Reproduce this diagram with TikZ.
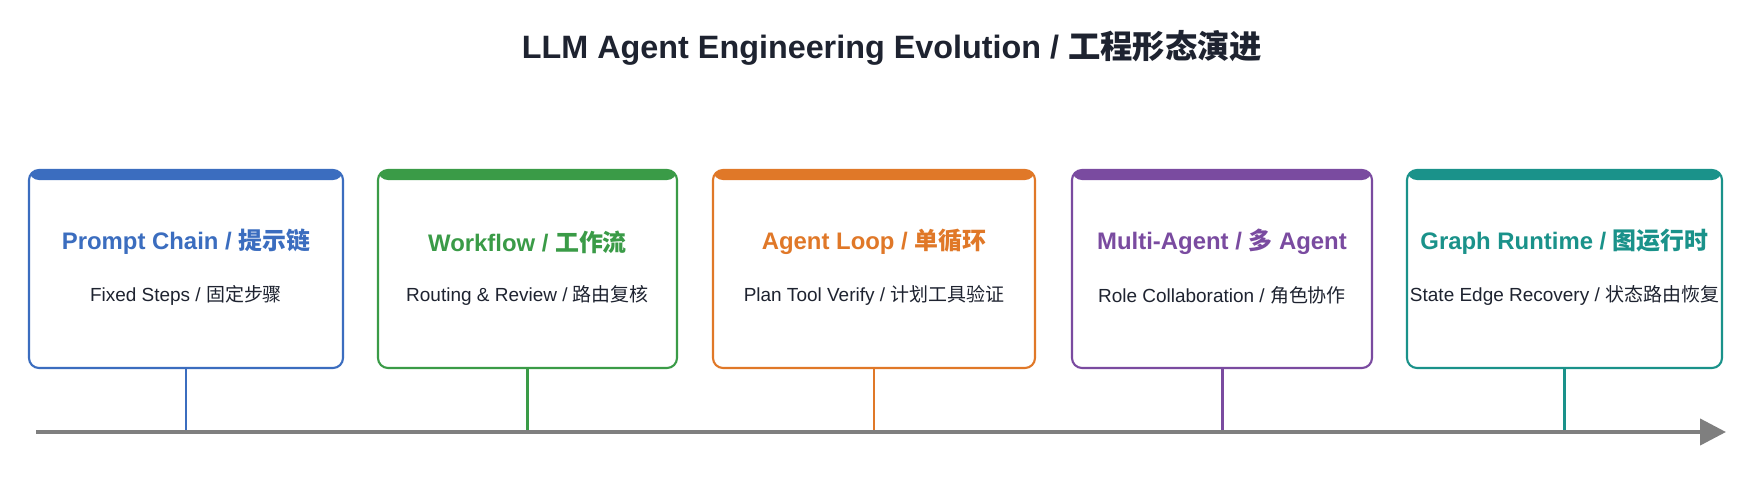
\documentclass[tikz,border=0pt]{standalone}
\usepackage{fontspec}
\setmainfont{Liberation Sans}
\newfontfamily\cjk{Noto Sans CJK SC}
\usetikzlibrary{arrows.meta}

\definecolor{chainblue}{HTML}{3B6DBF}
\definecolor{flowgreen}{HTML}{3A9B47}
\definecolor{looporange}{HTML}{E07828}
\definecolor{multipurple}{HTML}{7A4BA0}
\definecolor{graphteal}{HTML}{1A928A}
\definecolor{axisgray}{HTML}{7F7F7F}
\definecolor{inkdark}{HTML}{1E2330}

\tikzset{
  stage/.style={draw=#1, line width=0.6pt, rounded corners=0.1cm, minimum height=1.98cm, fill=white,
    path picture={\fill[#1] (path picture bounding box.north west) rectangle ([yshift=-0.1cm]path picture bounding box.north east);}},
  stagetitle/.style={text=#1, font=\fontsize{6.8}{8}\selectfont\bfseries},
  stagesub/.style={text=inkdark, font=\fontsize{5.4}{6.5}\selectfont},
  stem/.style={draw=#1, line width=0.85pt},
}

\begin{document}
\begin{tikzpicture}
	\useasboundingbox[fill=white] (0,0) rectangle (17.54,4.78);
	\node[text=inkdark, font=\fontsize{9.2}{11}\selectfont\bfseries] (heading) at (8.92,4.30) {LLM Agent Engineering Evolution / {\cjk 工程形态演进}};

	% stages
	\node[stage=chainblue, minimum width=3.14cm] (chain) at (1.86,2.09) {};
	\node[stagetitle=chainblue] (chaintitle) at ([yshift=0.27cm]chain.center) {Prompt Chain / {\cjk 提示链}};
	\node[stagesub] (chainsub) at ([yshift=-0.26cm]chain.center) {Fixed Steps / {\cjk 固定步骤}};

	\node[stage=flowgreen, minimum width=2.99cm] (flow) at (5.275,2.09) {};
	\node[stagetitle=flowgreen] (flowtitle) at ([yshift=0.27cm]flow.center) {Workflow / {\cjk 工作流}};
	\node[stagesub] (flowsub) at ([yshift=-0.26cm]flow.center) {Routing \& Review / {\cjk 路由复核}};

	\node[stage=looporange, minimum width=3.22cm] (loop) at (8.74,2.09) {};
	\node[stagetitle=looporange] (looptitle) at ([yshift=0.27cm]loop.center) {Agent Loop / {\cjk 单循环}};
	\node[stagesub] (loopsub) at ([yshift=-0.26cm]loop.center) {Plan Tool Verify / {\cjk 计划工具验证}};

	\node[stage=multipurple, minimum width=3.00cm] (multi) at (12.22,2.09) {};
	\node[stagetitle=multipurple] (multititle) at ([yshift=0.27cm]multi.center) {Multi-Agent / {\cjk 多} Agent};
	\node[stagesub] (multisub) at ([yshift=-0.26cm]multi.center) {Role Collaboration / {\cjk 角色协作}};

	\node[stage=graphteal, minimum width=3.15cm] (graph) at (15.645,2.09) {};
	\node[stagetitle=graphteal] (graphtitle) at ([yshift=0.27cm]graph.center) {Graph Runtime / {\cjk 图运行时}};
	\node[stagesub] (graphsub) at ([yshift=-0.26cm]graph.center) {State Edge Recovery / {\cjk 状态路由恢复}};

	% timeline
	\coordinate (axisstart) at (0.36,0.46);
	\coordinate (axisend) at (17.26,0.46);
	\draw[stem=chainblue] (chain.south) -- (chain.south |- axisstart);
	\draw[stem=flowgreen] (flow.south) -- (flow.south |- axisstart);
	\draw[stem=looporange] (loop.south) -- (loop.south |- axisstart);
	\draw[stem=multipurple] (multi.south) -- (multi.south |- axisstart);
	\draw[stem=graphteal] (graph.south) -- (graph.south |- axisstart);
	\draw[axisgray, line width=1.2pt, -{Triangle[length=0.26cm, width=0.26cm]}] (axisstart) -- (axisend);
\end{tikzpicture}
\end{document}
